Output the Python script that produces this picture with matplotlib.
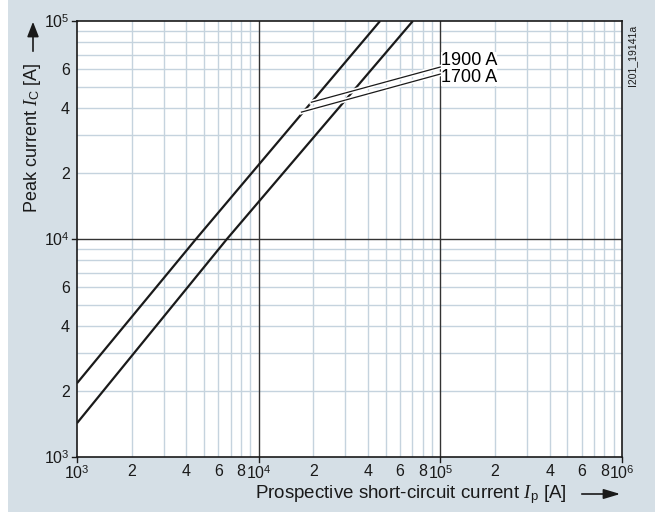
import numpy as np
import matplotlib
matplotlib.use("Agg")
import matplotlib.pyplot as plt
import matplotlib.patheffects as pe
from matplotlib.patches import Rectangle, FancyArrowPatch
from matplotlib.ticker import FixedLocator, FixedFormatter, NullLocator

plt.rcParams["font.family"] = ["Liberation Sans", "DejaVu Sans"]
plt.rcParams["mathtext.fontset"] = "custom"
plt.rcParams["mathtext.rm"] = "Liberation Sans"
plt.rcParams["mathtext.it"] = "Liberation Serif:italic"

# Datos (corriente prospectiva vs corriente de pico)
ip_1900 = [1e3, 4520, 46600]
ic_1900 = [2180, 1e4, 1e5]
ip_1700 = [1e3, 6690, 70600]
ic_1700 = [1430, 1e4, 1e5]

etiquetas = ["1900 A", "1700 A"]
# puntos de arranque de las lineas de referencia (sobre la curva superior)
ref_x = [1.95e4, 1.72e4]
ref_y = [4.24e4, 3.82e4]
fin_y = [6.15e4, 5.71e4]
lbl_y = [6.56e4, 5.48e4]

pot = r"10$^{\mathregular{%d}}$"
x_ticks = [1e3, 2e3, 4e3, 6e3, 8e3, 1e4, 2e4, 4e4, 6e4, 8e4, 1e5, 2e5, 4e5, 6e5, 8e5, 1e6]
x_labels = [pot % 3, "2", "4", "6", "8", pot % 4, "2", "4", "6", "8", pot % 5,
            "2", "4", "6", "8", pot % 6]
y_ticks = [1e3, 2e3, 4e3, 6e3, 1e4, 2e4, 4e4, 6e4, 1e5]
y_labels = [pot % 3, "2", "4", "6", pot % 4, "2", "4", "6", pot % 5]

bg = "#d5dfe6"
grid_claro = "#c5d3de"
negro = "#1a1a1a"

fig = plt.figure(figsize=(6.55, 5.12), dpi=100, facecolor=bg)
fig.patches.append(Rectangle((0, 0), 8 / 655, 1, transform=fig.transFigure,
                             facecolor="white", edgecolor="none", zorder=-1))
ax = fig.add_axes([77 / 655, 1 - 457 / 512, 545 / 655, 436 / 512])
ax.set_xscale("log")
ax.set_yscale("log")
ax.set_xlim(1e3, 1e6)
ax.set_ylim(1e3, 1e5)

# Rejilla
for dec in [1e3, 1e4, 1e5]:
    for m in range(2, 10):
        ax.axvline(dec * m, color=grid_claro, lw=1.0, zorder=1)
for dec in [1e3, 1e4]:
    for m in range(2, 10):
        ax.axhline(dec * m, color=grid_claro, lw=1.0, zorder=1)
for v in [1e4, 1e5]:
    ax.axvline(v, color="#333333", lw=1.0, zorder=2)
ax.axhline(1e4, color="#333333", lw=1.0, zorder=2)

# Curvas
ax.plot(ip_1900, ic_1900, color=negro, lw=1.6, zorder=4, solid_capstyle="butt")
ax.plot(ip_1700, ic_1700, color=negro, lw=1.6, zorder=4, solid_capstyle="butt")

# Etiquetas con lineas de referencia
for txt, xr, yr, fy, ly in zip(etiquetas, ref_x, ref_y, fin_y, lbl_y):
    ax.plot([xr, 1.0e5], [yr, fy], color=negro, lw=0.9, zorder=5,
            path_effects=[pe.Stroke(linewidth=3.2, foreground="white"), pe.Normal()])
    ax.text(1.01e5, ly, txt, fontsize=13, va="center", ha="left", zorder=6,
            bbox=dict(boxstyle="square,pad=0.0", facecolor="white", edgecolor="none"))

ax.xaxis.set_major_locator(FixedLocator(x_ticks))
ax.xaxis.set_major_formatter(FixedFormatter(x_labels))
ax.xaxis.set_minor_locator(NullLocator())
ax.yaxis.set_major_locator(FixedLocator(y_ticks))
ax.yaxis.set_major_formatter(FixedFormatter(y_labels))
ax.yaxis.set_minor_locator(NullLocator())
ax.tick_params(axis="both", labelsize=11.5, length=0, pad=5, colors=negro)
for t in [1e3, 1e4, 1e5]:
    ax.plot([1e3 / 1.07, 1e3], [t, t], color=negro, lw=1, clip_on=False, zorder=5)
for t in [1e3, 1e4, 1e5, 1e6]:
    ax.plot([t, t], [1e3 / 1.05, 1e3], color=negro, lw=1, clip_on=False, zorder=5)

for s in ax.spines.values():
    s.set_color(negro)
    s.set_linewidth(1.2)
    s.set_zorder(7)

# Titulos de ejes con flechas
fig.text(33 / 655, 1 - 138 / 512, "Peak current $I_\\mathrm{C}$ [A]", rotation=90,
         ha="center", va="center", fontsize=13, color=negro)
fig.patches.append(FancyArrowPatch(
    (33 / 655, 1 - 54 / 512), (33 / 655, 1 - 19 / 512), transform=fig.transFigure,
    arrowstyle="-|>,head_length=9,head_width=3.5", color=negro, lw=1.2))
fig.text(255 / 655, 1 - 495 / 512, "Prospective short-circuit current $I_\\mathrm{p}$ [A]",
         ha="left", va="center", fontsize=13.5, color=negro)
fig.patches.append(FancyArrowPatch(
    (579 / 655, 1 - 494 / 512), (623 / 655, 1 - 494 / 512), transform=fig.transFigure,
    arrowstyle="-|>,head_length=10,head_width=3", color=negro, lw=1.2))

fig.text(632 / 655, 1 - 55 / 512, "I201_19141a", rotation=90, ha="center", va="center",
         fontsize=7.5, color=negro)

fig.savefig("out.png", dpi=100, facecolor=bg)
